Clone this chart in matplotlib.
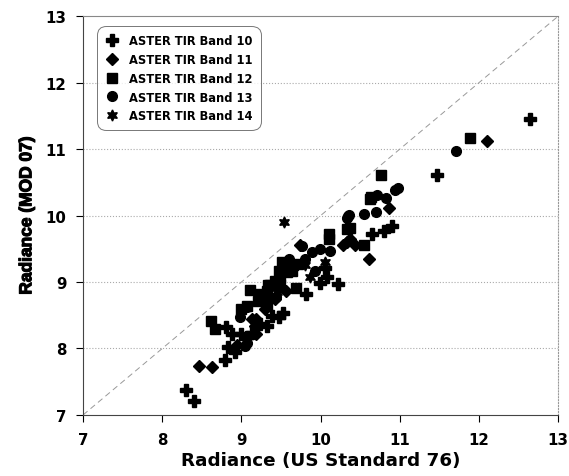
import matplotlib
matplotlib.use("Agg")
import matplotlib.pyplot as plt
import matplotlib.patheffects as pe

# radiance pairs: (US Standard 76, MOD 07)
b10_x = [8.30, 8.40, 8.79, 8.83, 8.92, 8.88, 9.00, 9.07, 9.13, 8.81, 9.23, 9.32,
         9.38, 9.47, 9.53, 9.82, 9.99, 10.22, 10.06, 10.08, 10.65, 10.80, 10.90,
         11.47, 12.65]
b10_y = [7.38, 7.21, 7.83, 8.02, 7.95, 8.22, 8.22, 8.17, 8.24, 8.32, 8.37, 8.34,
         8.49, 8.47, 8.54, 8.82, 8.98, 8.97, 9.21, 9.08, 9.72, 9.77, 9.85,
         10.61, 11.45]

b11_x = [8.46, 8.63, 8.95, 9.13, 9.19, 9.17, 9.18, 9.42, 9.56, 9.74, 10.28,
         10.33, 10.37, 10.44, 10.61, 10.86, 12.10, 9.30]
b11_y = [7.73, 7.72, 8.05, 8.44, 8.44, 8.34, 8.22, 8.74, 8.87, 9.55, 9.55,
         9.60, 9.65, 9.55, 9.34, 10.11, 11.12, 8.60]

b12_x = [8.62, 8.67, 9.00, 9.07, 9.11, 9.21, 9.23, 9.26, 9.30, 9.32, 9.32, 9.34,
         9.36, 9.42, 9.47, 9.49, 9.49, 9.51, 9.57, 9.57, 9.64, 9.65, 9.69, 9.72,
         10.10, 10.10, 10.33, 10.37, 10.55, 10.62, 10.64, 10.76, 11.89]
b12_y = [8.42, 8.29, 8.59, 8.64, 8.88, 8.72, 8.82, 8.79, 8.74, 8.87, 8.64, 8.95,
         8.95, 9.02, 9.17, 8.95, 9.09, 9.30, 9.15, 9.25, 9.17, 9.25, 8.91, 9.27,
         9.72, 9.65, 9.80, 9.81, 9.56, 10.25, 10.28, 10.61, 11.17]

b13_x = [8.98, 9.05, 9.07, 9.07, 9.44, 9.77, 9.80, 9.89, 9.93, 9.99, 10.12,
         10.33, 10.35, 10.36, 10.55, 10.70, 10.71, 10.83, 10.94, 10.98, 11.71, 9.60]
b13_y = [8.47, 8.04, 8.09, 8.62, 8.78, 9.54, 9.35, 9.45, 9.17, 9.50, 9.47,
         9.96, 9.99, 10.01, 10.02, 10.06, 10.31, 10.27, 10.38, 10.41, 10.97, 9.35]

b14_x = [9.54, 9.87, 10.05, 9.45, 9.80]
b14_y = [9.91, 9.08, 9.30, 8.85, 9.25]

labels = ["ASTER TIR Band 10", "ASTER TIR Band 11", "ASTER TIR Band 12",
          "ASTER TIR Band 13", "ASTER TIR Band 14"]
ticks = [7, 8, 9, 10, 11, 12, 13]

WIDE = "DejaVu Sans"
plt.rcParams["font.family"] = "Liberation Sans"
plt.rcParams["font.weight"] = "bold"
plt.rcParams["axes.labelweight"] = "bold"

fig = plt.figure(figsize=(5.69, 4.77), dpi=100)
ax = fig.add_axes([0.146, 0.128, 0.835, 0.836])

# 1:1 line and horizontal dotted grid
ax.plot([7, 13], [7, 13], color="#999999", ls=(0, (6, 4)), lw=0.7, zorder=1)
for t in ticks[1:-1]:
    ax.axhline(t, color="#aaaaaa", ls=":", lw=0.8, zorder=0)

ax.plot(b10_x, b10_y, ls="none", marker="P", ms=8, color="black", label=labels[0], zorder=3)
ax.plot(b11_x, b11_y, ls="none", marker="D", ms=6, color="black", label=labels[1], zorder=3)
ax.plot(b12_x, b12_y, ls="none", marker="s", ms=7, color="black", label=labels[2], zorder=3)
ax.plot(b13_x, b13_y, ls="none", marker="o", ms=7, color="black", label=labels[3], zorder=3)
ax.plot(b14_x, b14_y, ls="none", marker=(6, 1, 0), ms=8, color="black", label=labels[4], zorder=3)

ax.set_xlim(7, 13)
ax.set_ylim(7, 13)
ax.set_xticks(ticks)
ax.set_yticks(ticks)
ax.set_xticklabels([str(t) for t in ticks], family=WIDE, weight="bold", size=10.8)
ax.set_yticklabels([str(t) for t in ticks], family=WIDE, weight="bold", size=10.8)
ax.tick_params(direction="out", length=5, width=0.8, pad=7)
ax.spines["left"].set_color("#444444")
ax.spines["bottom"].set_color("#444444")
ax.spines["top"].set_color("#888888")
ax.spines["right"].set_color("#999999")
ax.spines["right"].set_linestyle(":")

ax.set_xlabel("Radiance (US Standard 76)", family=WIDE, weight="bold",
              size=13.2, labelpad=3)
ax.set_ylabel("Radiance (MOD 07)", size=12.5, labelpad=8,
              path_effects=[pe.withStroke(linewidth=0.8, foreground="black")])

leg = ax.legend(loc="upper left", bbox_to_anchor=(0.029, 0.975), borderaxespad=0,
                prop={"family": WIDE, "weight": "bold", "size": 8.3},
                frameon=True, fancybox=True, edgecolor="#555555",
                handletextpad=0.9, labelspacing=0.5, borderpad=0.7,
                handlelength=1.2)
leg.get_frame().set_linewidth(0.7)
leg.get_frame().set_boxstyle("round,pad=0,rounding_size=0.8")

fig.savefig("out.png", dpi=100)
